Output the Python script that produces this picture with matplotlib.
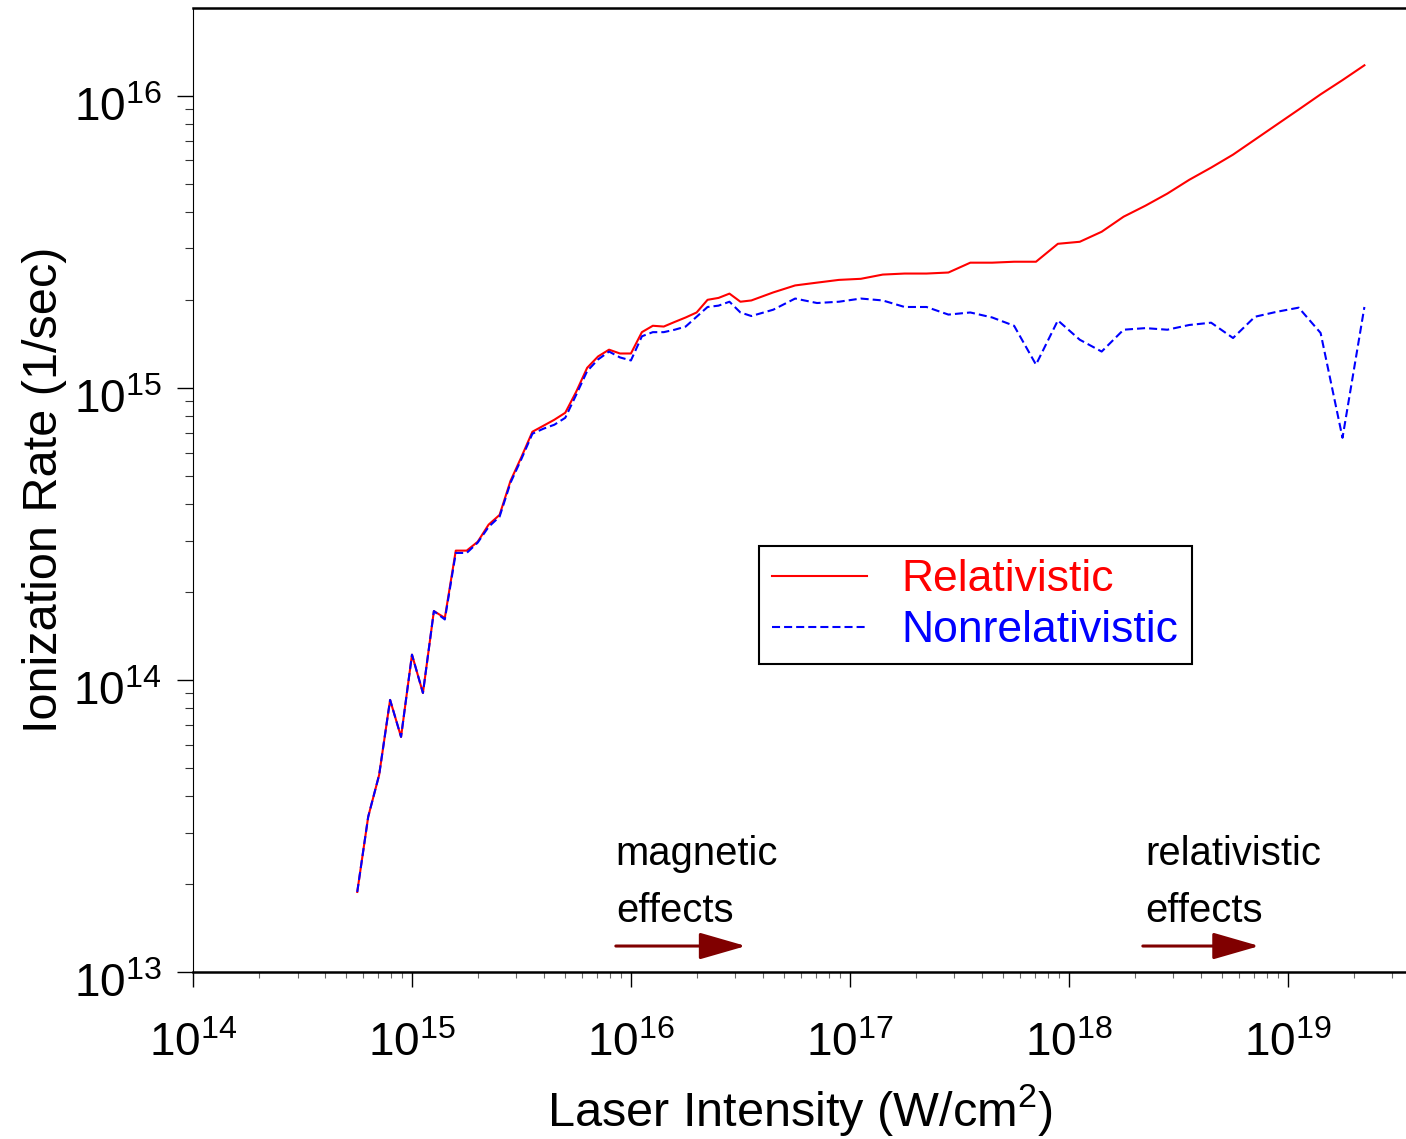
import numpy as np
import matplotlib
matplotlib.use('Agg')
from matplotlib import pyplot as plt
from matplotlib.transforms import ScaledTranslation

plt.rcParams['font.family'] = 'Liberation Sans'
plt.rcParams['mathtext.fontset'] = 'custom'
plt.rcParams['mathtext.rm'] = 'Liberation Sans'
plt.rcParams['mathtext.it'] = 'Liberation Sans:italic'
plt.rcParams['lines.scale_dashes'] = False

# log10 of laser intensity [W/cm2]
log_intensity = [14.75, 14.80, 14.85, 14.90, 14.95, 15.00, 15.05, 15.10, 15.15,
                 15.20, 15.25, 15.30, 15.35, 15.40, 15.45, 15.50, 15.55, 15.60,
                 15.65, 15.70, 15.75, 15.80, 15.85, 15.90, 15.95, 16.00, 16.05,
                 16.10, 16.15, 16.20, 16.25, 16.30, 16.35, 16.40, 16.45, 16.50,
                 16.55, 16.65, 16.75, 16.85, 16.95, 17.05, 17.15, 17.25, 17.35,
                 17.45, 17.55, 17.65, 17.75, 17.85, 17.95, 18.05, 18.15, 18.25,
                 18.35, 18.45, 18.55, 18.65, 18.75, 18.85, 18.95, 19.05, 19.15,
                 19.25, 19.35]

# ionization rate [1/sec]
rate_rel = [1.88e13, 3.40e13, 4.73e13, 8.54e13, 6.38e13, 1.22e14, 9.02e13, 1.72e14, 1.63e14,
            2.77e14, 2.77e14, 2.97e14, 3.40e14, 3.67e14, 4.80e14, 5.80e14, 7.07e14, 7.41e14,
            7.77e14, 8.21e14, 9.69e14, 1.17e15, 1.28e15, 1.35e15, 1.31e15, 1.31e15, 1.55e15,
            1.63e15, 1.62e15, 1.68e15, 1.74e15, 1.81e15, 2.00e15, 2.03e15, 2.10e15, 1.97e15,
            1.99e15, 2.12e15, 2.24e15, 2.29e15, 2.34e15, 2.36e15, 2.44e15, 2.46e15, 2.46e15,
            2.48e15, 2.68e15, 2.68e15, 2.70e15, 2.70e15, 3.11e15, 3.16e15, 3.42e15, 3.85e15,
            4.20e15, 4.62e15, 5.15e15, 5.67e15, 6.28e15, 7.07e15, 7.96e15, 8.96e15, 1.01e16,
            1.13e16, 1.27e16]

rate_nonrel = [1.88e13, 3.40e13, 4.73e13, 8.54e13, 6.38e13, 1.22e14, 9.02e13, 1.72e14, 1.61e14,
               2.72e14, 2.72e14, 2.95e14, 3.34e14, 3.62e14, 4.73e14, 5.71e14, 6.96e14, 7.24e14,
               7.47e14, 7.89e14, 9.46e14, 1.14e15, 1.25e15, 1.33e15, 1.27e15, 1.24e15, 1.50e15,
               1.55e15, 1.55e15, 1.58e15, 1.62e15, 1.75e15, 1.89e15, 1.91e15, 1.97e15, 1.81e15,
               1.76e15, 1.85e15, 2.02e15, 1.95e15, 1.97e15, 2.02e15, 1.99e15, 1.89e15, 1.89e15,
               1.78e15, 1.81e15, 1.74e15, 1.63e15, 1.20e15, 1.70e15, 1.46e15, 1.33e15, 1.58e15,
               1.60e15, 1.58e15, 1.64e15, 1.67e15, 1.48e15, 1.75e15, 1.82e15, 1.88e15, 1.54e15,
               6.74e14, 1.89e15]

intensity = 10 ** np.array(log_intensity)

fig = plt.figure(figsize=(14.06, 11.39), dpi=100)
ax = fig.add_axes([0.1373, 0.1466, 0.8627, 0.8464])

ax.plot(intensity, rate_rel, color='red', lw=1.5, label='Relativistic')
ax.plot(intensity, rate_nonrel, color='blue', lw=1.5, dashes=(5.8, 2.9), label='Nonrelativistic')

ax.set_xscale('log')
ax.set_yscale('log')
ax.set_xlim(1e14, 10 ** 19.54)
ax.set_ylim(1e13, 10 ** 16.30)

ax.spines['right'].set_visible(False)
ax.spines['top'].set_linewidth(1.8)
ax.spines['bottom'].set_linewidth(1.8)
ax.spines['left'].set_linewidth(0.8)

ax.tick_params(axis='x', which='major', direction='out', length=10.8, width=1, pad=25, labelsize=33)
ax.tick_params(axis='x', which='minor', direction='out', length=4.3, width=0.8, color='0.4')
ax.tick_params(axis='y', which='major', direction='out', length=11.5, width=1, pad=11, labelsize=33)
ax.tick_params(axis='y', which='minor', direction='out', length=5.8, width=0.8, color='0.2')
ax.tick_params(top=False, right=False, which='both')

# y tick labels sit a little below their ticks in the original
shift = ScaledTranslation(0, -6 / 72, fig.dpi_scale_trans)
for tick in ax.yaxis.get_major_ticks():
  tick.label1.set_transform(tick.label1.get_transform() + shift)

ax.set_xlabel('Laser Intensity (W/cm$^{\\mathdefault{2}}$)', fontsize=35, labelpad=12)
ax.set_ylabel('Ionization Rate (1/sec)', fontsize=35, labelpad=5)

leg = ax.legend(loc='upper left', bbox_to_anchor=(0.4666, 0.4419), fontsize=32,
                frameon=True, fancybox=False, edgecolor='black', framealpha=1,
                borderaxespad=0, handlelength=2.12, handletextpad=0.79,
                labelspacing=0.22, borderpad=0.3)
leg.get_frame().set_linewidth(1.5)
for text, line in zip(leg.get_texts(), leg.get_lines()):
  text.set_color(line.get_color())

# effect markers along the bottom
ax.text(10 ** 15.931, 10 ** 13.366, 'magnetic', fontsize=28.8, va='baseline', ha='left')
ax.text(10 ** 15.931, 10 ** 13.171, 'effects', fontsize=28.8, va='baseline', ha='left')
ax.text(10 ** 18.347, 10 ** 13.366, 'relativistic', fontsize=28.8, va='baseline', ha='left')
ax.text(10 ** 18.347, 10 ** 13.171, 'effects', fontsize=28.8, va='baseline', ha='left')

arrow_kw = dict(arrowstyle='-|>,head_length=28.8,head_width=8.3', mutation_scale=1,
                color='#800000', lw=2.2, shrinkA=0, shrinkB=0)
ax.annotate('', xy=(10 ** 16.525, 10 ** 13.089), xytext=(10 ** 15.931, 10 ** 13.089),
            arrowprops=arrow_kw)
ax.annotate('', xy=(10 ** 18.87, 10 ** 13.089), xytext=(10 ** 18.338, 10 ** 13.089),
            arrowprops=arrow_kw)

fig.savefig('out.png', dpi=100)
